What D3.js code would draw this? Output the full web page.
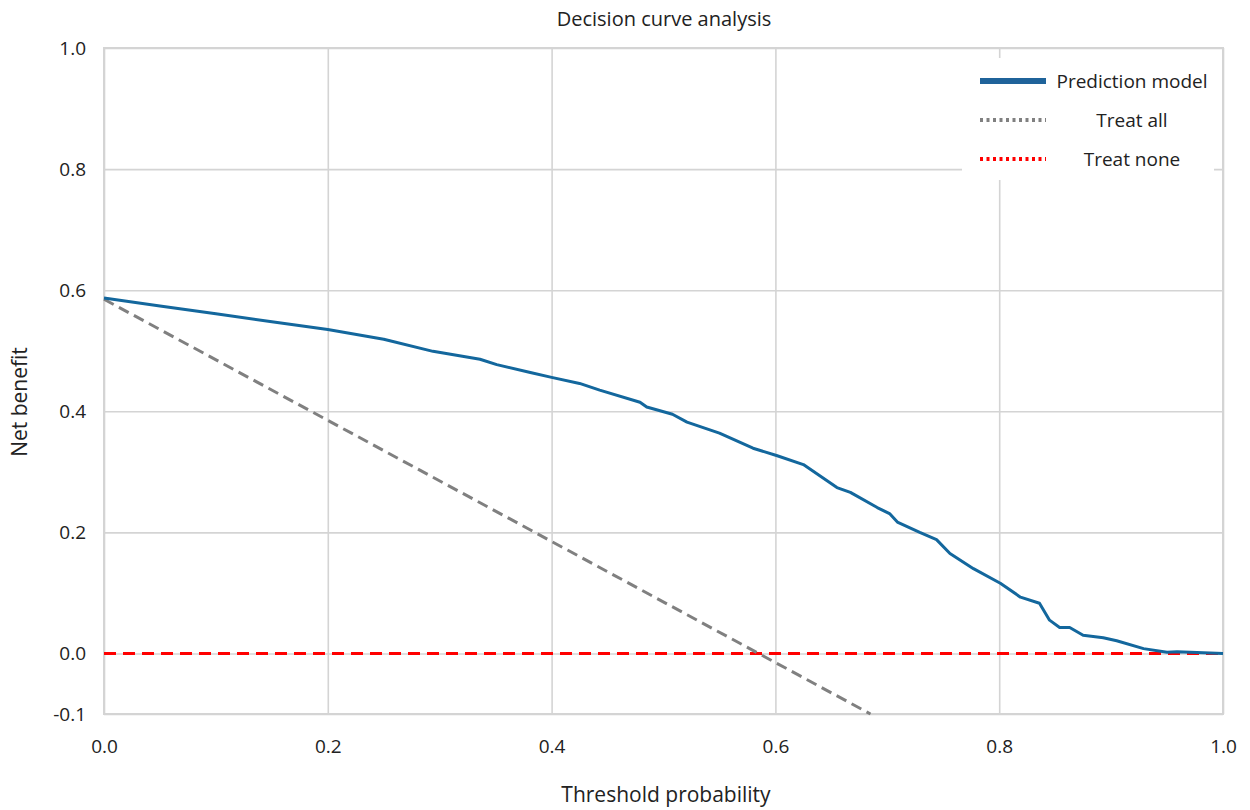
<!DOCTYPE html>
<html>
<head>
<meta charset="utf-8">
<script src="https://cdn.jsdelivr.net/npm/d3@7"></script>
<style>
  body { margin: 0; background: #fff; }
  svg, svg text { font-family: "Open Sans", sans-serif; }
</style>
</head>
<body>
<svg width="1250" height="810"></svg>
<script>
// threshold probability / net benefit
var modelPt = [0, 0.05, 0.1, 0.15, 0.2, 0.25, 0.294, 0.336, 0.351, 0.381, 0.4, 0.425, 0.443, 0.479, 0.485,
  0.508, 0.521, 0.55, 0.58, 0.601, 0.625, 0.655, 0.667, 0.691, 0.702, 0.709, 0.729, 0.744, 0.756, 0.777,
  0.801, 0.819, 0.836, 0.845, 0.854, 0.863, 0.875, 0.893, 0.905, 0.929, 0.95, 0.959, 1.0];
var modelNb = [0.587, 0.574, 0.561, 0.548, 0.535, 0.519, 0.499, 0.486, 0.477, 0.464, 0.456, 0.446, 0.435, 0.415, 0.407,
  0.395, 0.382, 0.364, 0.339, 0.327, 0.312, 0.274, 0.266, 0.241, 0.231, 0.217, 0.2, 0.188, 0.165, 0.14,
  0.116, 0.093, 0.083, 0.055, 0.043, 0.043, 0.03, 0.026, 0.021, 0.008, 0.002, 0.003, 0.0];
var allPt = [0, 0.685];
var allNb = [0.585, -0.1];
var nonePt = [0, 1];
var noneNb = [0, 0];

var xTicks = [0, 0.2, 0.4, 0.6, 0.8, 1.0];
var yTicks = [-0.1, 0, 0.2, 0.4, 0.6, 0.8, 1.0];
var legendNames = ["Prediction model", "Treat all", "Treat none"];

var svg = d3.select("svg");
var plotL = 104, plotR = 1223, plotT = 48, plotB = 714;

var x = d3.scaleLinear().domain([0, 1]).range([plotL, plotR]);
var y = d3.scaleLinear().domain([-0.1, 1.0]).range([plotB, plotT]);

// plain hyphen for the minus, like the original
var fmt = function (d) { return d3.format(".1f")(d).replace("\u2212", "-"); };

// grid + tick labels
var yAxis = d3.axisLeft(y).tickValues(yTicks).tickFormat(fmt)
  .tickSize(-(plotR - plotL)).tickPadding(18);
var yG = svg.append("g").attr("transform", "translate(" + plotL + ",0)").call(yAxis)
  .attr("font-family", null).attr("font-size", null);
yG.select(".domain").remove();
yG.selectAll("line").attr("stroke", "#d4d4d4").attr("stroke-width", 1.6);
yG.selectAll("text").style("font-size", "19px").attr("fill", "#222");

var xAxis = d3.axisBottom(x).tickValues(xTicks).tickFormat(fmt)
  .tickSize(-(plotB - plotT)).tickPadding(26);
var xG = svg.append("g").attr("transform", "translate(0," + plotB + ")").call(xAxis)
  .attr("font-family", null).attr("font-size", null);
xG.select(".domain").remove();
xG.selectAll("line").attr("stroke", "#d4d4d4").attr("stroke-width", 1.6);
xG.selectAll("text").style("font-size", "19px").attr("fill", "#222");

svg.append("rect").attr("x", plotL).attr("y", plotT)
  .attr("width", plotR - plotL).attr("height", plotB - plotT)
  .attr("fill", "none").attr("stroke", "#d4d4d4").attr("stroke-width", 2);

var line = d3.line().x(function (d) { return x(d[0]); }).y(function (d) { return y(d[1]); });

svg.append("path").datum(d3.zip(nonePt, noneNb)).attr("d", line)
  .attr("fill", "none").attr("stroke", "#ff0000").attr("stroke-width", 3)
  .attr("stroke-dasharray", "12,7");

svg.append("path").datum(d3.zip(allPt, allNb)).attr("d", line)
  .attr("fill", "none").attr("stroke", "#808080").attr("stroke-width", 3)
  .attr("stroke-dasharray", "11,6");

svg.append("path").datum(d3.zip(modelPt, modelNb)).attr("d", line)
  .attr("fill", "none").attr("stroke", "#13679d").attr("stroke-width", 3)
  .attr("stroke-linejoin", "round");

// legend
var lg = svg.append("g");
lg.append("rect").attr("x", 962).attr("y", 58).attr("width", 252).attr("height", 122).attr("fill", "#fff");
var styles = [
  { color: "#1f639a", width: 6, dash: null },
  { color: "#808080", width: 4, dash: "3,3.5" },
  { color: "#ff0000", width: 4, dash: "3,3.5" }
];
legendNames.forEach(function (name, i) {
  var yy = 81 + i * 39;
  lg.append("line").attr("x1", 980).attr("x2", 1046).attr("y1", yy).attr("y2", yy)
    .attr("stroke", styles[i].color).attr("stroke-width", styles[i].width)
    .attr("stroke-dasharray", styles[i].dash);
  lg.append("text").attr("x", 1132).attr("y", yy).attr("dy", "0.35em")
    .attr("text-anchor", "middle").style("font-size", "19px").attr("fill", "#222").text(name);
});

// titles
svg.append("text").attr("x", 664).attr("y", 19).attr("dy", "0.35em").attr("text-anchor", "middle")
  .style("font-size", "20px").attr("fill", "#222").text("Decision curve analysis");
svg.append("text").attr("x", 666).attr("y", 795).attr("dy", "0.35em").attr("text-anchor", "middle")
  .style("font-size", "21px").attr("fill", "#222").text("Threshold probability");
svg.append("text").attr("transform", "translate(20,402) rotate(-90)").attr("dy", "0.35em")
  .attr("text-anchor", "middle").style("font-size", "21px").attr("fill", "#222").text("Net benefit");
</script>
</body>
</html>
